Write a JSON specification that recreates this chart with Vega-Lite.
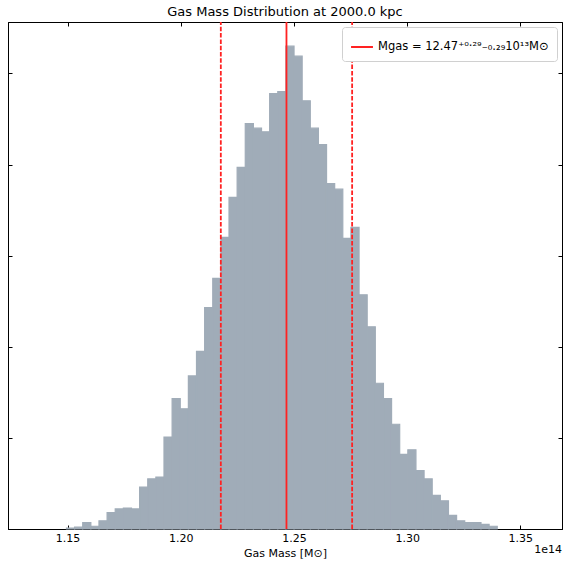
{
  "$schema": "https://vega.github.io/schema/vega-lite/v6.json",
  "width": 554,
  "height": 507,
  "autosize": {"type": "none"},
  "padding": {"left": 8, "top": 22, "right": 6, "bottom": 39},
  "title": {
    "text": "Gas Mass Distribution at 2000.0 kpc",
    "fontSize": 13,
    "fontWeight": "normal",
    "color": "black",
    "offset": 2
  },
  "datasets": {
    "hist": [
      {"lo": 1.1493, "hi": 1.15289, "count": 1},
      {"lo": 1.15289, "hi": 1.15648, "count": 2},
      {"lo": 1.15648, "hi": 1.16007, "count": 7},
      {"lo": 1.16007, "hi": 1.16366, "count": 3},
      {"lo": 1.16366, "hi": 1.16725, "count": 9},
      {"lo": 1.16725, "hi": 1.17084, "count": 18},
      {"lo": 1.17084, "hi": 1.17443, "count": 22},
      {"lo": 1.17443, "hi": 1.17802, "count": 23},
      {"lo": 1.17802, "hi": 1.18161, "count": 22},
      {"lo": 1.18161, "hi": 1.1852, "count": 46},
      {"lo": 1.1852, "hi": 1.18879, "count": 55},
      {"lo": 1.18879, "hi": 1.19238, "count": 57},
      {"lo": 1.19238, "hi": 1.19597, "count": 101},
      {"lo": 1.19597, "hi": 1.19956, "count": 143},
      {"lo": 1.19956, "hi": 1.20315, "count": 132},
      {"lo": 1.20315, "hi": 1.20674, "count": 168},
      {"lo": 1.20674, "hi": 1.21033, "count": 195},
      {"lo": 1.21033, "hi": 1.21392, "count": 243},
      {"lo": 1.21392, "hi": 1.21751, "count": 275},
      {"lo": 1.21751, "hi": 1.2211, "count": 320},
      {"lo": 1.2211, "hi": 1.22469, "count": 364},
      {"lo": 1.22469, "hi": 1.22828, "count": 397},
      {"lo": 1.22828, "hi": 1.23187, "count": 445},
      {"lo": 1.23187, "hi": 1.23546, "count": 440},
      {"lo": 1.23546, "hi": 1.23905, "count": 436},
      {"lo": 1.23905, "hi": 1.24264, "count": 478},
      {"lo": 1.24264, "hi": 1.24623, "count": 480},
      {"lo": 1.24623, "hi": 1.24982, "count": 530},
      {"lo": 1.24982, "hi": 1.25341, "count": 519},
      {"lo": 1.25341, "hi": 1.257, "count": 470},
      {"lo": 1.257, "hi": 1.26059, "count": 440},
      {"lo": 1.26059, "hi": 1.26418, "count": 422},
      {"lo": 1.26418, "hi": 1.26777, "count": 379},
      {"lo": 1.26777, "hi": 1.27136, "count": 373},
      {"lo": 1.27136, "hi": 1.27495, "count": 319},
      {"lo": 1.27495, "hi": 1.27854, "count": 331},
      {"lo": 1.27854, "hi": 1.28213, "count": 257},
      {"lo": 1.28213, "hi": 1.28572, "count": 222},
      {"lo": 1.28572, "hi": 1.28931, "count": 160},
      {"lo": 1.28931, "hi": 1.2929, "count": 143},
      {"lo": 1.2929, "hi": 1.29649, "count": 115},
      {"lo": 1.29649, "hi": 1.30008, "count": 82},
      {"lo": 1.30008, "hi": 1.30367, "count": 87},
      {"lo": 1.30367, "hi": 1.30726, "count": 64},
      {"lo": 1.30726, "hi": 1.31085, "count": 55},
      {"lo": 1.31085, "hi": 1.31444, "count": 37},
      {"lo": 1.31444, "hi": 1.31803, "count": 31},
      {"lo": 1.31803, "hi": 1.32162, "count": 15},
      {"lo": 1.32162, "hi": 1.32521, "count": 9},
      {"lo": 1.32521, "hi": 1.3288, "count": 7},
      {"lo": 1.3288, "hi": 1.33239, "count": 7},
      {"lo": 1.33239, "hi": 1.33598, "count": 5},
      {"lo": 1.33598, "hi": 1.33957, "count": 3}
    ],
    "lines": [
      {"value": 1.2467, "kind": "median", "label": "Mgas = 12.47⁺⁰·²⁹₋₀.₂₉10¹³M⊙"},
      {"value": 1.2177, "kind": "lower", "label": "Mgas = 12.47⁺⁰·²⁹₋₀.₂₉10¹³M⊙"},
      {"value": 1.2757, "kind": "upper", "label": "Mgas = 12.47⁺⁰·²⁹₋₀.₂₉10¹³M⊙"}
    ],
    "offset": [{"text": "1e14"}]
  },
  "layer": [
    {
      "data": {"name": "hist"},
      "mark": {"type": "bar", "color": "#a0acb8", "stroke": "#a0acb8", "strokeWidth": 1.2, "binSpacing": 0},
      "encoding": {
        "x": {
          "field": "lo",
          "type": "quantitative",
          "bin": "binned",
          "scale": {"domain": [1.1237, 1.3684], "nice": false, "zero": false},
          "axis": {
            "orient": "bottom",
            "title": "Gas Mass [M⊙]",
            "values": [1.15, 1.2, 1.25, 1.3, 1.35],
            "format": ".2f",
            "tickSize": -4,
            "labelPadding": 7,
            "titlePadding": 4
          }
        },
        "x2": {"field": "hi"},
        "y": {
          "field": "count",
          "type": "quantitative",
          "scale": {"domain": [0, 556.5], "nice": false},
          "axis": {
            "orient": "left",
            "title": null,
            "labels": false,
            "values": [0, 100, 200, 300, 400, 500],
            "tickSize": -4
          }
        }
      }
    },
    {
      "data": {"name": "lines"},
      "mark": {"type": "rule", "strokeWidth": 1.8},
      "encoding": {
        "x": {
          "field": "value",
          "type": "quantitative",
          "axis": {
            "orient": "top",
            "title": null,
            "labels": false,
            "values": [1.15, 1.2, 1.25, 1.3, 1.35],
            "tickSize": -4
          }
        },
        "y": {
          "datum": 0,
          "type": "quantitative",
          "axis": {
            "orient": "right",
            "title": null,
            "labels": false,
            "values": [0, 100, 200, 300, 400, 500],
            "tickSize": -4
          }
        },
        "y2": {"datum": 556.5},
        "color": {
          "field": "label",
          "type": "nominal",
          "scale": {"range": ["#ff2222"]},
          "legend": {
            "title": null,
            "orient": "top-right",
            "offset": 5,
            "padding": 8,
            "symbolType": "stroke",
            "symbolSize": 480,
            "symbolStrokeWidth": 2,
            "labelFontSize": 11.5,
            "labelLimit": 0,
            "labelColor": "black",
            "strokeColor": "#d0d0d0",
            "fillColor": "white",
            "cornerRadius": 3
          }
        },
        "strokeDash": {
          "field": "kind",
          "type": "nominal",
          "scale": {"domain": ["median", "lower", "upper"], "range": [[1, 0], [4.5, 1.8], [4.5, 1.8]]},
          "legend": null
        }
      }
    },
    {
      "data": {"name": "offset"},
      "mark": {"type": "text", "align": "right", "baseline": "top", "dy": 15, "fontSize": 11, "color": "black"},
      "encoding": {
        "x": {"datum": 1.3684, "type": "quantitative", "axis": null},
        "y": {"datum": 0, "type": "quantitative", "axis": null},
        "text": {"field": "text"}
      }
    }
  ],
  "resolve": {"axis": {"x": "independent", "y": "independent"}},
  "config": {
    "font": "DejaVu Sans",
    "view": {"stroke": "black", "strokeWidth": 1},
    "axis": {
      "domainColor": "black",
      "tickColor": "black",
      "labelColor": "black",
      "titleColor": "black",
      "labelFontSize": 11,
      "titleFontSize": 11,
      "titleFontWeight": "normal",
      "grid": false
    }
  }
}
